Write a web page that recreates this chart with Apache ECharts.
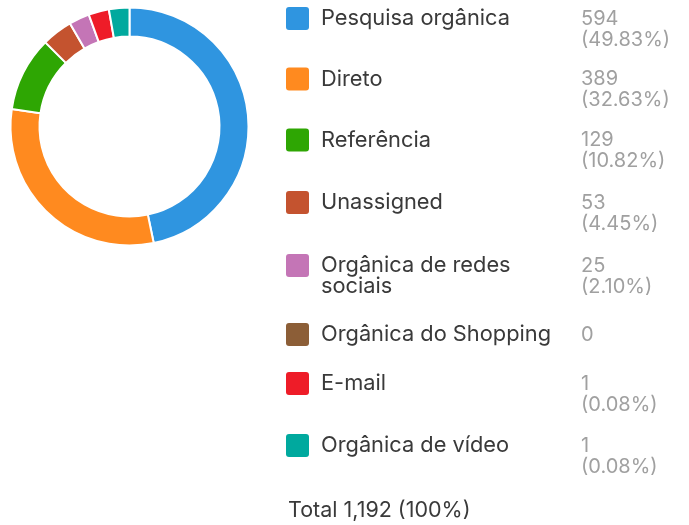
<!DOCTYPE html>
<html>
<head>
<meta charset="utf-8">
<script src="https://cdn.jsdelivr.net/npm/echarts@6/dist/echarts.min.js"></script>
<style>
    html, body { margin: 0; padding: 0; background: #fff; }
    #chart { width: 689px; height: 525px; }
</style>
</head>
<body>
<div id="chart"></div>
<script>
// dados do gráfico
const categories = ['Pesquisa orgânica', 'Direto', 'Referência', 'Unassigned', 'Orgânica de redes sociais', 'Orgânica do Shopping', 'E-mail', 'Orgânica de vídeo'];
const values = [594, 389, 129, 53, 25, 0, 1, 1];
const colors = ['#2f95e0', '#ff8a1f', '#2ea603', '#c4532f', '#c475b6', '#8c5e37', '#ee1c28', '#00a99e'];

// layout da legenda (centro da primeira linha de cada item)
const rowCenters = [18.5, 79, 140, 202.5, 265.5, 334.5, 383.5, 445.5];
const FONT = 'Inter, "Noto Sans", sans-serif';

const total = values.reduce((a, b) => a + b, 0);
const fmt = n => n.toLocaleString('en-US');

const chart = echarts.init(document.getElementById('chart'));

const graphic = [];
categories.forEach((name, i) => {
    const cy = rowCenters[i];
    graphic.push({
        type: 'rect',
        shape: { x: 286, y: cy - 11.5, width: 23, height: 23, r: 3 },
        style: { fill: colors[i] }
    });
    graphic.push({
        type: 'text',
        x: 321,
        y: cy - 10.5,
        style: {
            text: name,
            width: 250,
            overflow: 'break',
            font: '21.8px ' + FONT,
            lineHeight: 21,
            fill: '#3a3a3a',
            verticalAlign: 'top'
        }
    });
    const v = values[i];
    const valText = v === 0 ? '0' : fmt(v) + '\n(' + (v / total * 100).toFixed(2) + '%)';
    graphic.push({
        type: 'text',
        x: 581,
        y: cy - 10.5,
        style: {
            text: valText,
            font: '20px ' + FONT,
            lineHeight: 21,
            fill: '#a0a0a0',
            verticalAlign: 'top'
        }
    });
});
graphic.push({
    type: 'text',
    x: 288,
    y: 500,
    style: {
        text: 'Total ' + fmt(total) + ' (100%)',
        font: '21.5px ' + FONT,
        lineHeight: 21,
        fill: '#3a3a3a',
        verticalAlign: 'top'
    }
});

chart.setOption({
    animation: false,
    color: colors,
    graphic: graphic,
    series: [
        {
            type: 'pie',
            center: [129.5, 126.5],
            radius: [90, 119],
            startAngle: 90,
            clockwise: true,
            minAngle: 10,
            avoidLabelOverlap: false,
            label: { show: false },
            labelLine: { show: false },
            itemStyle: { borderColor: '#fff', borderWidth: 2 },
            // valor zero não aparece na rosca
            data: categories.map((name, i) => ({
                name: name,
                value: values[i] === 0 ? '-' : values[i],
                itemStyle: { color: colors[i] }
            }))
        }
    ]
});
</script>
</body>
</html>
